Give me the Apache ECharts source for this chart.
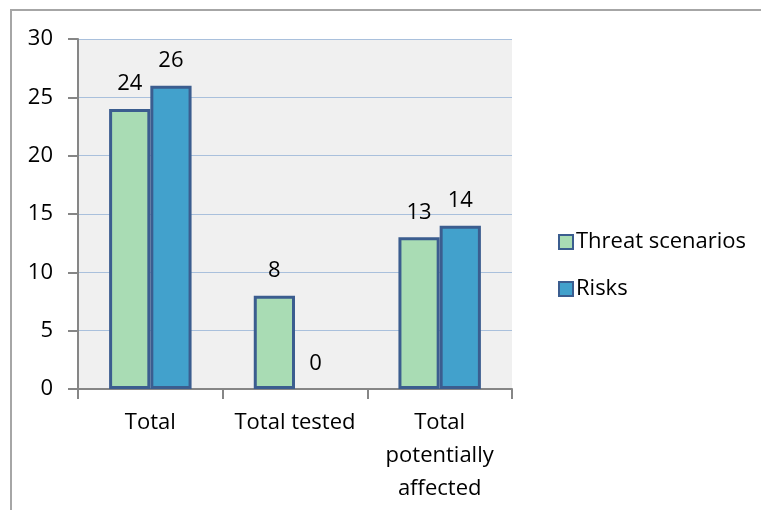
<!DOCTYPE html>
<html>
<head>
<meta charset="utf-8">
<script src="https://cdn.jsdelivr.net/npm/echarts@6/dist/echarts.min.js"></script>
<style>
  html, body { margin: 0; padding: 0; background: #ffffff; }
  #chart { width: 761px; height: 510px; }
</style>
</head>
<body>
<div id="chart"></div>
<script>
// Category labels along the x axis
const categories = ['Total', 'Total tested', 'Total\npotentially\naffected'];
// Counts per category
const threatScenarios = [24, 8, 13];
const risks = [26, 0, 14];
// Y axis range and step
const yMin = 0;
const yMax = 30;
const yStep = 5;

const FONT = 'Open Sans';
const FS = 22;
const chart = echarts.init(document.getElementById('chart'), null, { renderer: 'canvas' });

const barBorder = '#3b5d8f';

// zero-height bars are drawn without an outline
const asBarData = arr => arr.map(v => v === 0 ? { value: v, itemStyle: { borderWidth: 0 } } : v);

const valueLabel = { show: true, position: 'top', distance: 14, color: '#000', fontSize: FS, fontFamily: FONT };

chart.setOption({
  animation: false,
  backgroundColor: '#ffffff',
  textStyle: { fontFamily: FONT },
  graphic: [{
    type: 'rect',
    shape: { x: 11, y: 10, width: 800, height: 560 },
    style: { fill: 'none', stroke: '#a6a6a6', lineWidth: 2 },
    silent: true,
    z: -1
  }],
  grid: {
    left: 78, top: 39, right: 249, bottom: 121,
    show: true, backgroundColor: '#f0f0f0', borderWidth: 0
  },
  legend: {
    orient: 'vertical',
    left: 553, top: 226,
    itemWidth: 14, itemHeight: 14, itemGap: 25,
    icon: 'rect',
    textStyle: { fontFamily: FONT, fontSize: FS, color: '#000', padding: [0, 0, 0, -2] },
    data: ['Threat scenarios', 'Risks']
  },
  xAxis: {
    type: 'category',
    data: categories,
    axisLine: { lineStyle: { color: '#868686', width: 2 } },
    axisTick: { show: true, interval: 0, length: 10, lineStyle: { color: '#868686', width: 2 } },
    axisLabel: {
      color: '#000', fontSize: FS, fontFamily: FONT, margin: 17, lineHeight: 33,
      interval: 0, hideOverlap: false
    },
    splitLine: { show: false }
  },
  yAxis: {
    type: 'value',
    min: yMin, max: yMax, interval: yStep,
    axisLine: { show: true, lineStyle: { color: '#868686', width: 2 } },
    axisTick: { show: true, length: 10, lineStyle: { color: '#868686', width: 2 } },
    axisLabel: { color: '#000', fontSize: FS, fontFamily: FONT, margin: 25 },
    splitLine: { show: true, lineStyle: { color: '#a9c0dc', width: 1 } }
  },
  series: [
    {
      name: 'Threat scenarios',
      type: 'bar',
      data: asBarData(threatScenarios),
      barGap: '0%',
      barCategoryGap: '43%',
      itemStyle: { color: '#a9dcb4', borderColor: barBorder, borderWidth: 3 },
      label: valueLabel
    },
    {
      name: 'Risks',
      type: 'bar',
      data: asBarData(risks),
      itemStyle: { color: '#42a1cc', borderColor: barBorder, borderWidth: 3 },
      label: valueLabel
    }
  ]
});
</script>
</body>
</html>
